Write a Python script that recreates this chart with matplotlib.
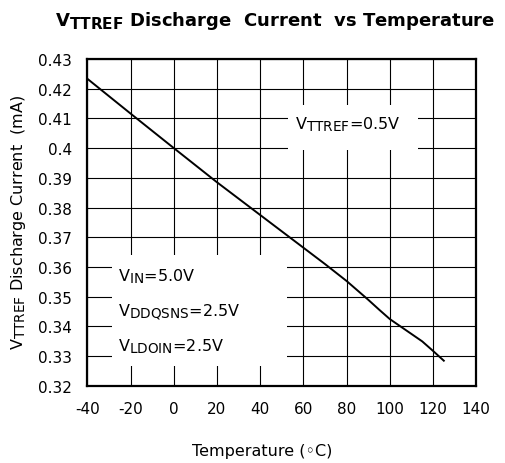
import matplotlib
matplotlib.use("Agg")
import matplotlib.pyplot as plt
import matplotlib._mathtext as mathtext_mod
from matplotlib.patches import Rectangle

plt.rcParams['font.family'] = ['DejaVu Sans']
plt.rcParams['mathtext.default'] = 'regular'
plt.rcParams['axes.unicode_minus'] = False
# 下标字号放大一点，更接近原图
mathtext_mod.SHRINK_FACTOR = 0.85

# 读图得到的数据
temperature = [-40, -20, 0, 20, 40, 60, 70, 80, 90, 95, 100, 110, 115, 120, 125]
current_ma = [0.4233, 0.4116, 0.4000, 0.3885, 0.3775, 0.3665, 0.3610, 0.3553,
              0.3490, 0.3457, 0.3425, 0.3375, 0.3350, 0.3318, 0.3285]
x_ticks = [-40, -20, 0, 20, 40, 60, 80, 100, 120, 140]
y_ticks = [0.32, 0.33, 0.34, 0.35, 0.36, 0.37, 0.38, 0.39, 0.40, 0.41, 0.42, 0.43]
y_tick_labels = ['0.32', '0.33', '0.34', '0.35', '0.36', '0.37', '0.38', '0.39',
                 '0.4', '0.41', '0.42', '0.43']

fig = plt.figure(figsize=(5.05, 4.64), dpi=100)
ax = fig.add_axes([0.173, 0.166, 0.770, 0.705])

ax.plot(temperature, current_ma, color='black', lw=1.4, zorder=3)

ax.set_xlim(-40, 140)
ax.set_ylim(0.32, 0.43)
ax.set_xticks(x_ticks)
ax.set_yticks(y_ticks)
ax.set_yticklabels(y_tick_labels)
ax.tick_params(length=0, labelsize=11)
ax.tick_params(axis='x', pad=11)
ax.tick_params(axis='y', pad=11)
ax.grid(True, color='black', lw=0.8)
ax.set_axisbelow(True)
for s in ax.spines.values():
    s.set_linewidth(1.6)

# 白色文字框（遮住网格）
ax.add_patch(Rectangle((0.516, 0.722), 0.335, 0.137, transform=ax.transAxes,
                       facecolor='white', edgecolor='none', zorder=2))
ax.add_patch(Rectangle((0.063, 0.061), 0.450, 0.340, transform=ax.transAxes,
                       facecolor='white', edgecolor='none', zorder=2))

ax.text(0.534, 0.801, r'V$_{TTREF}$=0.5V', transform=ax.transAxes,
        fontsize=11.5, va='center', zorder=4)
ax.text(0.0785, 0.336, r'V$_{IN}$=5.0V', transform=ax.transAxes,
        fontsize=11.5, va='center', zorder=4)
ax.text(0.0785, 0.229, r'V$_{DDQSNS}$=2.5V', transform=ax.transAxes,
        fontsize=11.5, va='center', zorder=4)
ax.text(0.0785, 0.122, r'V$_{LDOIN}$=2.5V', transform=ax.transAxes,
        fontsize=11.5, va='center', zorder=4)

fig.text(19 / 505, 1 - 222 / 464, r'V$_{TTREF}$ Discharge Current  (mA)',
         fontsize=11.5, rotation=90, ha='center', va='center')
fig.text(262 / 505, 1 - 456 / 464, 'Temperature (\u25e6C)', fontsize=11.5,
         ha='center', va='baseline')
fig.text(275 / 505, 1 - 26 / 464,
         r'V$_{TTREF}$ Discharge  Current  vs Temperature',
         fontsize=13, fontweight='bold', ha='center', va='baseline')

plt.savefig('out.png', dpi=100)
